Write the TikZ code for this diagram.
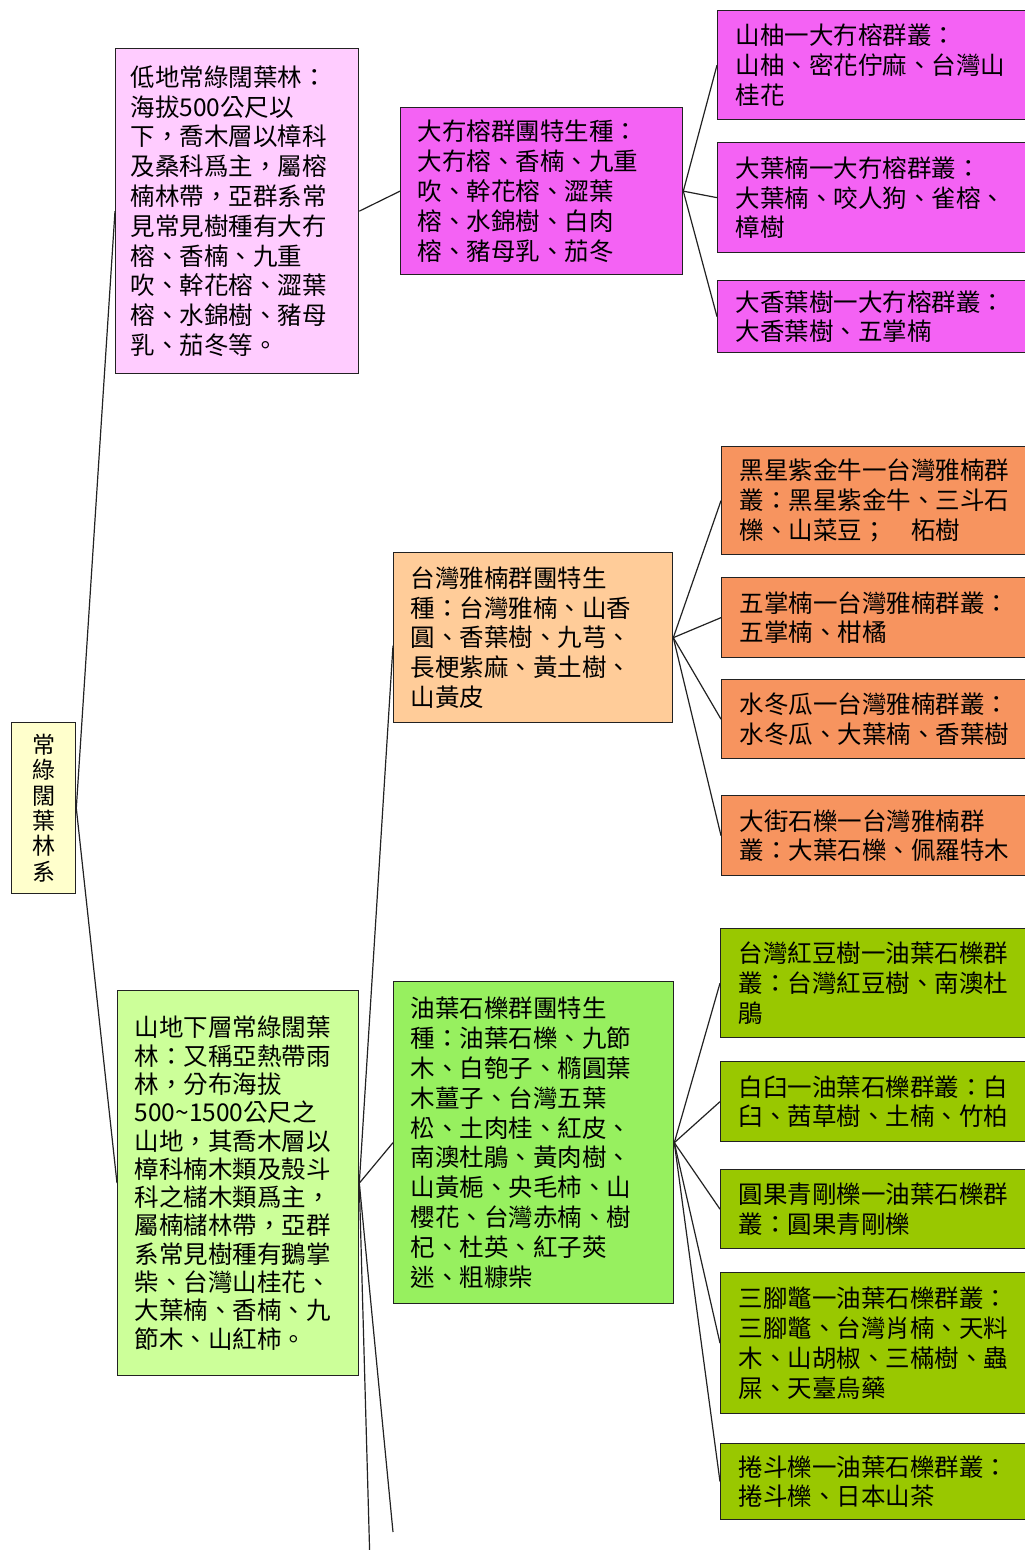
\documentclass[tikz,border=0pt]{standalone}
\usepackage{fontspec}
\newfontfamily\cjk{Noto Sans CJK TC}
\definecolor{rootc}{HTML}{FFFFCC}
\definecolor{pinkl}{HTML}{FFCCFF}
\definecolor{pinkd}{HTML}{F462F4}
\definecolor{orgl}{HTML}{FFCC99}
\definecolor{orgd}{HTML}{F7945F}
\definecolor{grnl}{HTML}{CCFF99}
\definecolor{grnm}{HTML}{97F05F}
\definecolor{grnd}{HTML}{99C800}
\definecolor{edge}{HTML}{222222}
\tikzset{
  box/.style={draw=edge, line width=1.3pt, anchor=north west, align=left,
    inner xsep=17pt, inner ysep=2pt,
    font=\cjk\fontsize{24.5}{29.8}\selectfont},
  rbox/.style={box, minimum width=330pt, text width=294pt},
  link/.style={draw=edge, line width=1.2pt},
}
\begin{document}
\begin{tikzpicture}[x=1pt,y=-1pt]
\useasboundingbox (0,0) rectangle (1025,1550);
\clip (0,0) rectangle (1025,1550);
\fill[white] (0,0) rectangle (1025,1550);

% root
\node[box, fill=rootc, anchor=north west, align=center, inner xsep=4pt,
  minimum width=64pt, minimum height=171pt, text width=56pt,
  font=\cjk\fontsize{23}{25.3}\selectfont] (root) at (11,722)
  {常\\綠\\闊\\葉\\林\\系};

% level 1
\node[box, fill=pinkl, inner xsep=15pt, minimum width=243pt, minimum height=325pt, text width=213pt] (pinkL) at (115,48)
{低地常綠闊葉林：\\海拔500公尺以\\下，喬木層以樟科\\及桑科爲主，屬榕\\楠林帶，亞群系常\\見常見樹種有大冇\\榕、香楠、九重\\吹、幹花榕、澀葉\\榕、水錦樹、豬母\\乳、茄冬等。};

\node[box, fill=grnl, minimum width=241pt, minimum height=385pt, text width=207pt,
  font=\cjk\fontsize{24.5}{28.3}\selectfont] (greenL) at (117,990)
{山地下層常綠闊葉\\林：又稱亞熱帶雨\\林，分布海拔\\500\textasciitilde1500公尺之\\山地，其喬木層以\\樟科楠木類及殼斗\\科之櫧木類爲主，\\屬楠櫧林帶，亞群\\系常見樹種有鵝掌\\柴、台灣山桂花、\\大葉楠、香楠、九\\節木、山紅柿。};

% level 2
\node[box, fill=pinkd, minimum width=282pt, minimum height=167pt, text width=248pt] (pinkM) at (400,107)
{大冇榕群團特生種：\\大冇榕、香楠、九重\\吹、幹花榕、澀葉\\榕、水錦樹、白肉\\榕、豬母乳、茄冬};

\node[box, fill=orgl, minimum width=279pt, minimum height=170pt, text width=245pt] (orgM) at (393,552)
{台灣雅楠群團特生\\種：台灣雅楠、山香\\圓、香葉樹、九芎、\\長梗紫麻、黃土樹、\\山黃皮};

\node[box, fill=grnm, minimum width=280pt, minimum height=322pt, text width=246pt] (greenM) at (393,981)
{油葉石櫟群團特生\\種：油葉石櫟、九節\\木、白匏子、橢圓葉\\木薑子、台灣五葉\\松、土肉桂、紅皮、\\南澳杜鵑、黃肉樹、\\山黃梔、央毛柿、山\\櫻花、台灣赤楠、樹\\杞、杜英、紅子莢\\迷、粗糠柴};

% level 3 pink
\node[rbox, fill=pinkd, minimum height=109pt] (r1) at (717,10)
{山柚一大冇榕群叢：\\山柚、密花佇麻、台灣山\\桂花};
\node[rbox, fill=pinkd, minimum height=110pt] (r2) at (717,142)
{大葉楠一大冇榕群叢：\\大葉楠、咬人狗、雀榕、\\樟樹};
\node[rbox, fill=pinkd, minimum height=72pt] (r3) at (717,280)
{大香葉樹一大冇榕群叢：\\大香葉樹、五掌楠};

% level 3 orange
\node[rbox, fill=orgd, minimum height=108pt] (o1) at (721,446)
{黑星紫金牛一台灣雅楠群\\叢：黑星紫金牛、三斗石\\櫟、山菜豆；　柘樹};
\node[rbox, fill=orgd, minimum height=80pt] (o2) at (721,577)
{五掌楠一台灣雅楠群叢：\\五掌楠、柑橘};
\node[rbox, fill=orgd, minimum height=79pt] (o3) at (721,679)
{水冬瓜一台灣雅楠群叢：\\水冬瓜、大葉楠、香葉樹};
\node[rbox, fill=orgd, minimum height=80pt] (o4) at (721,795)
{大街石櫟一台灣雅楠群\\叢：大葉石櫟、佩羅特木};

% level 3 green
\node[rbox, fill=grnd, minimum height=109pt] (g1) at (720,928)
{台灣紅豆樹一油葉石櫟群\\叢：台灣紅豆樹、南澳杜\\鵑};
\node[rbox, fill=grnd, minimum height=80pt] (g2) at (720,1061)
{白臼一油葉石櫟群叢：白\\臼、茜草樹、土楠、竹柏};
\node[rbox, fill=grnd, minimum height=79pt] (g3) at (720,1169)
{圓果青剛櫟一油葉石櫟群\\叢：圓果青剛櫟};
\node[rbox, fill=grnd, minimum height=141pt] (g4) at (720,1272)
{三腳鼈一油葉石櫟群叢：\\三腳鼈、台灣肖楠、天料\\木、山胡椒、三樠樹、蟲\\屎、天臺烏藥};
\node[rbox, fill=grnd, minimum height=76pt] (g5) at (720,1443)
{捲斗櫟一油葉石櫟群叢：\\捲斗櫟、日本山茶};

\coordinate (offA) at (393,1532);
\coordinate (offB) at (370,1565);

% connectors
\draw[link] (root.east) -- (pinkL.west);
\draw[link] (root.east) -- (greenL.west);
\draw[link] (pinkL.east) -- (pinkM.west);
\draw[link] (pinkM.east) -- (r1.west);
\draw[link] (pinkM.east) -- (r2.west);
\draw[link] (pinkM.east) -- (r3.west);
\draw[link] (greenL.east) -- ([yshift=-8pt]orgM.west);
\draw[link] (greenL.east) -- (greenM.west);
\draw[link] (greenL.east) -- (offA);
\draw[link] (greenL.east) -- (offB);
\draw[link] (orgM.east) -- (o1.west);
\draw[link] (orgM.east) -- (o2.west);
\draw[link] (orgM.east) -- (o3.west);
\draw[link] (orgM.east) -- (o4.west);
\draw[link] (greenM.east) -- (g1.west);
\draw[link] (greenM.east) -- (g2.west);
\draw[link] (greenM.east) -- (g3.west);
\draw[link] (greenM.east) -- (g4.west);
\draw[link] (greenM.east) -- (g5.west);
\end{tikzpicture}
\end{document}
